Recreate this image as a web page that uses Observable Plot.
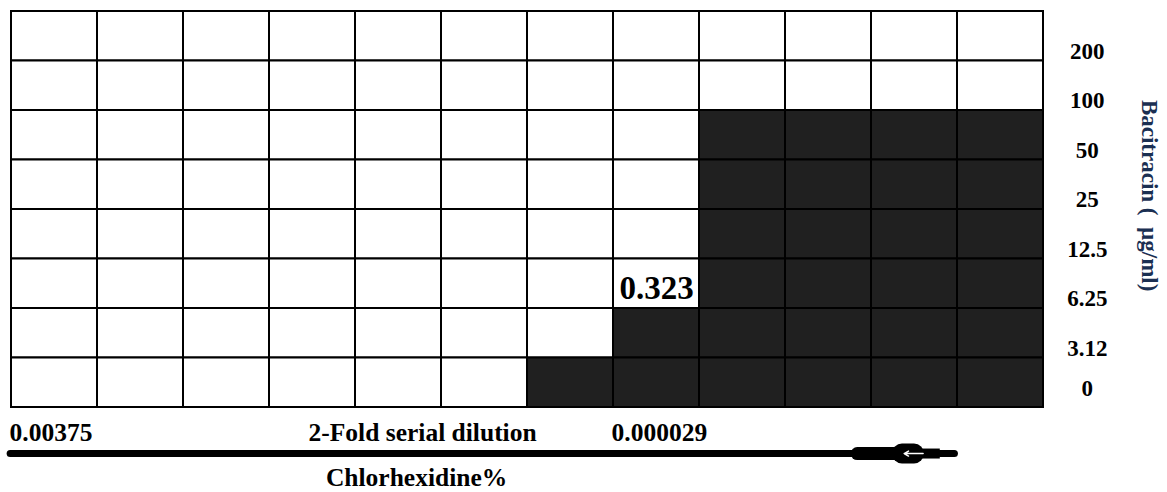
<!DOCTYPE html>
<html>
<head>
<meta charset="utf-8">
<script src="https://cdn.jsdelivr.net/npm/d3@7"></script>
<script src="https://cdn.jsdelivr.net/npm/@observablehq/plot@0.6"></script>
<style>
  html, body { margin: 0; padding: 0; background: #fff; }
  svg { display: block; }
</style>
</head>
<body>
<div id="chart"></div>
<script>
// ---- data ----
const bacitracin = ["200", "100", "50", "25", "12.5", "6.25", "3.12", "0"]; // rows, top to bottom (µg/ml)
const nDilutions = 12;                        // chlorhexidine 2-fold dilution columns
const darkFrom = [12, 12, 8, 8, 8, 8, 7, 6];  // first dark (growth) column in each row
const xTickLabels = ["0.00375", "0.000029"];
const xTickCols = [0, 7];
const micLabel = "0.323";
const micCol = 7;
const micRow = 5;
const xTitle = "Chlorhexidine%";
const xSubTitle = "2-Fold serial dilution";
const yTitle = "Bacitracin (  µg/ml)";

// ---- tables built from the arrays ----
const cells = [];
bacitracin.forEach((conc, r) => {
  for (let c = 0; c < nDilutions; ++c) cells.push({row: r, col: c, dark: c >= darkFrom[r]});
});
const rowLabels = bacitracin.map((label, r) => ({row: r, label}));
const colLabels = xTickLabels.map((label, i) => ({col: xTickCols[i], label}));

const font = "'Liberation Serif', 'Times New Roman', serif";
const ink = "#000";
const darkFill = "#202020";
const arrowY = 8.93;

const chart = Plot.plot({
  width: 1167,
  height: 492,
  margin: 0,
  style: {fontFamily: font, background: "#fff"},
  x: {type: "linear", domain: [0, nDilutions], range: [11, 1043], axis: null},
  y: {type: "linear", domain: [0, bacitracin.length], range: [11, 407], axis: null},
  color: {type: "identity"},
  marks: [
    Plot.rect(cells, {
      x1: d => d.col, x2: d => d.col + 1,
      y1: d => d.row, y2: d => d.row + 1,
      fill: d => d.dark ? darkFill : "#fff",
      stroke: ink, strokeWidth: 2
    }),
    // MIC annotation
    Plot.text([micLabel], {
      x: micCol + 0.5, y: micRow + 0.6, text: d => d,
      fontSize: 33, fontWeight: "bold", fill: ink
    }),
    // right-hand row labels
    Plot.text(rowLabels.filter(d => d.label !== "0"), {
      x: 12.51, y: d => d.row + 0.5, text: "label", dy: 15,
      fontSize: 23, fontWeight: "bold", fill: ink
    }),
    Plot.text(rowLabels.filter(d => d.label === "0"), {
      x: 12.51, y: d => d.row + 0.5, text: "label", dy: 6,
      fontSize: 23, fontWeight: "bold", fill: ink
    }),
    Plot.text([yTitle], {
      x: 13.23, y: 3.72, text: d => d, rotate: 90,
      fontSize: 23, fontWeight: "bold", fill: "#1b2f52"
    }),
    // bottom labels
    Plot.text(colLabels, {
      x: "col", y: 8.52, text: "label", textAnchor: "start", dx: -2,
      fontSize: 25.5, fontWeight: "bold", fill: ink
    }),
    Plot.text([xSubTitle], {
      x: 4.78, y: 8.52, text: d => d,
      fontSize: 25.5, fontWeight: "bold", fill: ink
    }),
    Plot.text([xTitle], {
      x: 4.71, y: 9.43, text: d => d,
      fontSize: 25.5, fontWeight: "bold", fill: ink
    }),
    // dilution arrow
    Plot.ruleY([arrowY], {x1: -0.01, x2: 9.85, stroke: ink, strokeWidth: 7, strokeLinecap: "round"}),
    Plot.ruleY([arrowY], {x1: 9.84, x2: 10.36, stroke: ink, strokeWidth: 13, strokeLinecap: "round"}),
    Plot.ruleY([arrowY], {x1: 10.36, x2: 10.5, stroke: ink, strokeWidth: 20, strokeLinecap: "round"}),
    Plot.ruleY([arrowY], {x1: 10.5, x2: 10.8, stroke: ink, strokeWidth: 10}),
    Plot.ruleY([arrowY], {x1: 10.8, x2: 10.97, stroke: ink, strokeWidth: 7, strokeLinecap: "round"}),
    Plot.arrow([0], {
      x1: 10.6, x2: 10.38, y1: arrowY, y2: arrowY,
      stroke: "#fff", strokeWidth: 1.5, headLength: 5
    })
  ]
});
document.getElementById("chart").append(chart);
</script>
</body>
</html>
